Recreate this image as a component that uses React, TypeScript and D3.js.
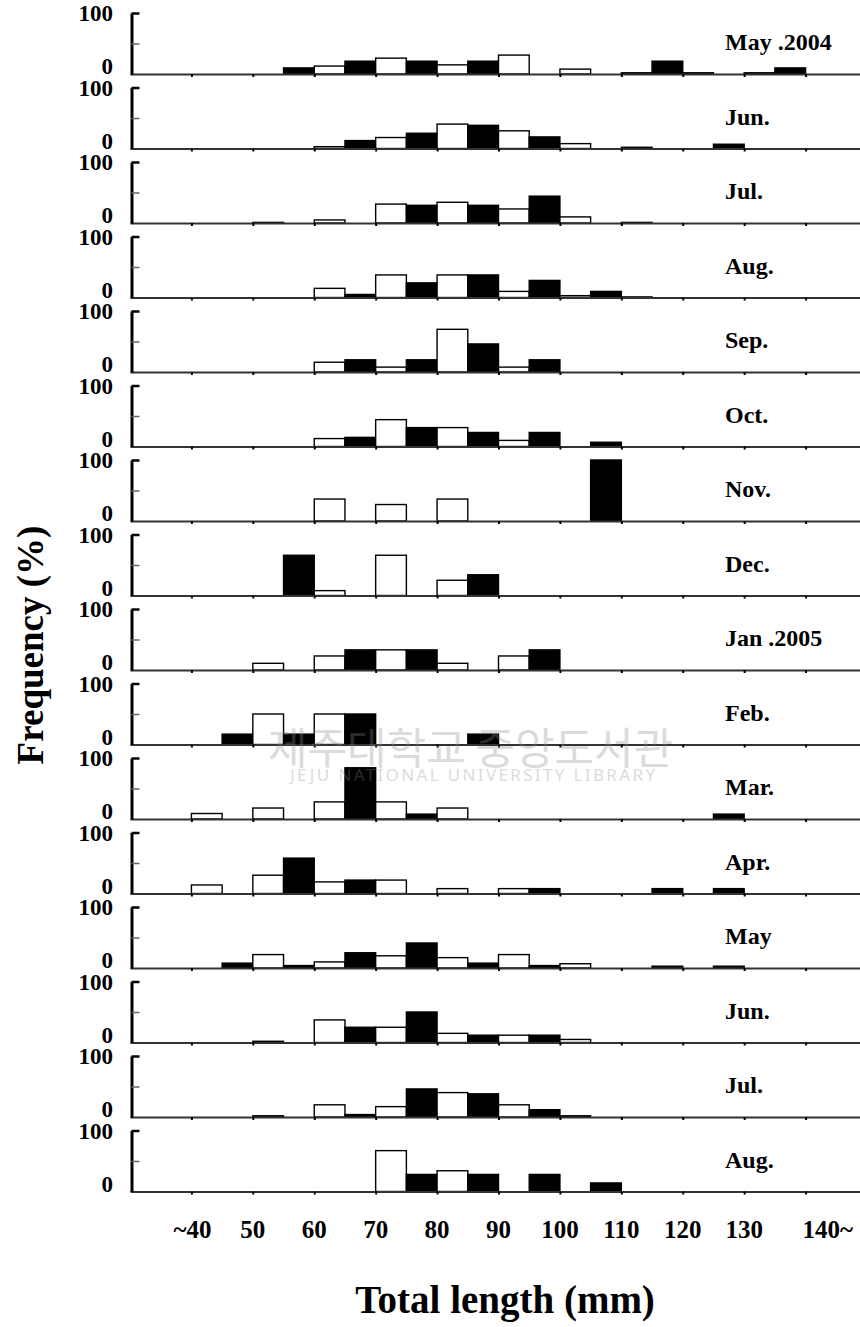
import React, { useEffect, useRef } from "react";
import * as d3 from "d3";

// length classes (start of each 5 mm bin)
const binStarts = [40, 45, 50, 55, 60, 65, 70, 75, 80, 85, 90, 95, 100, 105, 110, 115, 120, 125, 130, 135];

const months = [
  "May .2004", "Jun.", "Jul.", "Aug.", "Sep.", "Oct.", "Nov.", "Dec.",
  "Jan .2005", "Feb.", "Mar.", "Apr.", "May", "Jun.", "Jul.", "Aug.",
];

// frequency (%) per bin
const may2004 = [0, 0, 0, 10, 13, 21, 26, 21, 15, 21, 31, 0, 8, 0, 2, 21, 2, 0, 2, 10];
const jun2004 = [0, 0, 0, 0, 3, 13, 18, 25, 40, 38, 29, 19, 8, 0, 2, 0, 0, 7, 0, 0];
const jul2004 = [0, 0, 1, 0, 5, 0, 31, 29, 34, 29, 23, 44, 10, 0, 1, 0, 0, 0, 0, 0];
const aug2004 = [0, 0, 0, 0, 15, 5, 37, 24, 37, 37, 10, 28, 3, 10, 1, 0, 0, 0, 0, 0];
const sep2004 = [0, 0, 0, 0, 16, 20, 8, 20, 70, 46, 8, 20, 0, 0, 0, 0, 0, 0, 0, 0];
const oct2004 = [0, 0, 0, 0, 13, 15, 44, 31, 31, 23, 10, 23, 0, 7, 0, 0, 0, 0, 0, 0];
const nov2004 = [0, 0, 0, 0, 36, 0, 27, 0, 36, 0, 0, 0, 0, 100, 0, 0, 0, 0, 0, 0];
const dec2004 = [0, 0, 0, 66, 8, 0, 66, 0, 25, 34, 0, 0, 0, 0, 0, 0, 0, 0, 0, 0];
const jan2005 = [0, 0, 11, 0, 23, 33, 33, 33, 11, 0, 23, 33, 0, 0, 0, 0, 0, 0, 0, 0];
const feb2005 = [0, 17, 50, 17, 50, 50, 0, 0, 0, 17, 0, 0, 0, 0, 0, 0, 0, 0, 0, 0];
const mar2005 = [9, 0, 18, 0, 28, 84, 28, 8, 18, 0, 0, 0, 0, 0, 0, 0, 0, 8, 0, 0];
const apr2005 = [14, 0, 30, 58, 19, 22, 22, 0, 8, 0, 8, 8, 0, 0, 0, 8, 0, 8, 0, 0];
const may2005 = [0, 8, 22, 4, 10, 25, 20, 41, 17, 8, 22, 4, 7, 0, 0, 3, 0, 3, 0, 0];
const jun2005 = [0, 0, 2, 0, 37, 25, 25, 50, 15, 12, 12, 12, 5, 0, 0, 0, 0, 0, 0, 0];
const jul2005 = [0, 0, 2, 0, 20, 4, 17, 46, 40, 38, 20, 12, 2, 0, 0, 0, 0, 0, 0, 0];
const aug2005 = [0, 0, 0, 0, 0, 0, 67, 28, 34, 28, 0, 28, 0, 14, 0, 0, 0, 0, 0, 0];

const panelValues = [
  may2004, jun2004, jul2004, aug2004, sep2004, oct2004, nov2004, dec2004,
  jan2005, feb2005, mar2005, apr2005, may2005, jun2005, jul2005, aug2005,
];

const xTicks = [40, 50, 60, 70, 80, 90, 100, 110, 120, 130, 140, 150];
const xTickLabels = ["~40", "50", "60", "70", "80", "90", "100", "110", "120", "130", "140~"];

const serif = "'Liberation Serif', 'Times New Roman', serif";

const App = () => {
  const svgRef = useRef<SVGSVGElement>(null);

  useEffect(() => {
    const svg = d3.select(svgRef.current);
    svg.selectAll("*").remove();

    const x = d3.scaleLinear().domain([30, 150]).range([130, 867]);
    const panelBase = d3.scaleLinear().domain([0, months.length - 1]).range([74, 1191.5]);
    const panelH = 61;

    months.forEach((month, i) => {
      const base = panelBase(i);
      const y = d3.scaleLinear().domain([0, 100]).range([base, base - panelH]);
      const g = svg.append("g");

      const bars = binStarts
        .map((b, j) => ({ b, v: panelValues[i][j] }))
        .filter((d) => d.v > 0);

      g.selectAll(".bar")
        .data(bars)
        .enter()
        .append("rect")
        .attr("class", "bar")
        .attr("x", (d) => x(d.b))
        .attr("y", (d) => y(d.v))
        .attr("width", (d) => x(d.b + 5) - x(d.b))
        .attr("height", (d) => base - y(d.v))
        .attr("fill", (d) => (d.b % 10 === 0 ? "#fff" : "#000"))
        .attr("stroke", "#000")
        .attr("stroke-width", 1.4);

      // x axis: baseline with little tick dots
      const xa = g
        .append("g")
        .attr("transform", `translate(0,${base})`)
        .call(
          d3.axisBottom(x).tickValues(xTicks).tickSize(3).tickSizeOuter(0).tickFormat(() => "")
        );
      xa.select(".domain").attr("stroke", "#333").attr("stroke-width", 2);
      xa.selectAll(".tick line").attr("stroke", "#000").attr("stroke-width", 2);

      // y axis: thick line, ticks pointing inward
      const ya = g
        .append("g")
        .attr("transform", `translate(${x(30) + 1.5},0)`)
        .call(
          d3.axisRight(y).tickValues([50, 100]).tickSize(8).tickSizeOuter(0).tickFormat(() => "")
        );
      ya.select(".domain").attr("stroke", "#000").attr("stroke-width", 3);
      ya.selectAll(".tick line")
        .attr("stroke", (d: any) => (d === 100 ? "#000" : "#666"))
        .attr("stroke-width", (d: any) => (d === 100 ? 2.5 : 1.5));

      g.append("text")
        .attr("x", 113)
        .attr("y", y(100) + 8)
        .attr("text-anchor", "end")
        .attr("font-family", serif)
        .attr("font-weight", "bold")
        .attr("font-size", 23)
        .text("100");

      g.append("text")
        .attr("x", 113)
        .attr("y", y(0))
        .attr("text-anchor", "end")
        .attr("font-family", serif)
        .attr("font-weight", "bold")
        .attr("font-size", 23)
        .text("0");

      g.append("text")
        .attr("x", 725)
        .attr("y", base - 24)
        .attr("font-family", serif)
        .attr("font-weight", "bold")
        .attr("font-size", 24)
        .text(month);
    });

    // length class labels
    svg
      .append("g")
      .selectAll("text")
      .data(xTickLabels)
      .enter()
      .append("text")
      .attr("x", (d, i) => {
        const t = x(xTicks[i]);
        if (d.startsWith("~")) return t + 20;
        if (d.endsWith("~")) return t - 3;
        return t;
      })
      .attr("y", 1238)
      .attr("text-anchor", (d) => (d.startsWith("~") ? "end" : d.endsWith("~") ? "start" : "middle"))
      .attr("font-family", serif)
      .attr("font-weight", "bold")
      .attr("font-size", 25)
      .text((d) => d);

    svg
      .append("text")
      .attr("x", 505)
      .attr("y", 1313)
      .attr("text-anchor", "middle")
      .attr("font-family", serif)
      .attr("font-weight", "bold")
      .attr("font-size", 39)
      .text("Total length (mm)");

    svg
      .append("text")
      .attr("transform", "translate(30,645) rotate(-90)")
      .attr("text-anchor", "middle")
      .attr("dominant-baseline", "central")
      .attr("font-family", serif)
      .attr("font-weight", "bold")
      .attr("font-size", 37)
      .text("Frequency (%)");

    // library watermark
    const wm = svg.append("g").attr("opacity", 0.3).attr("fill", "#8a8a8a");
    wm.append("text")
      .attr("x", 268)
      .attr("y", 764)
      .attr("font-family", "'Noto Sans CJK KR', sans-serif")
      .attr("font-size", 43)
      .text("제주대학교 중앙도서관");
    wm.append("text")
      .attr("x", 290)
      .attr("y", 781)
      .attr("font-family", "'Noto Sans', sans-serif")
      .attr("font-size", 17)
      .attr("textLength", 365)
      .text("JEJU NATIONAL UNIVERSITY LIBRARY");
  }, []);

  return (
    <svg
      ref={svgRef}
      width={860}
      height={1327}
      style={{ position: "absolute", left: 0, top: 0, background: "#fff" }}
    ></svg>
  );
};

export default App;
